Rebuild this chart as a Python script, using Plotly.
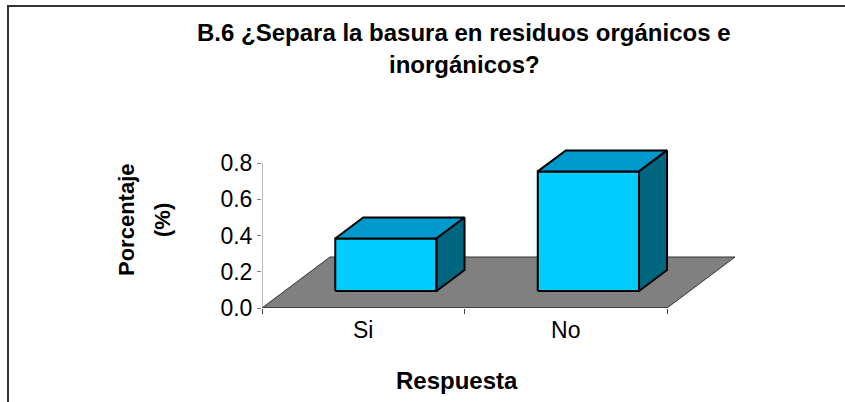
import plotly.graph_objects as go

# ---- data ----
categories = ["Si", "No"]
values = [0.29, 0.66]
y_ticks = [0.0, 0.2, 0.4, 0.6, 0.8]
title_lines = ["B.6 ¿Separa la basura en residuos orgánicos e", "inorgánicos?"]
x_title = "Respuesta"
y_title_lines = ["Porcentaje", "(%)"]

# ---- styling / geometry ----
FONT = "Arial, Liberation Sans, sans-serif"
W, H = 845, 402
L, R, T, B = 262, 83, 120, 94
PW, PH = W - L - R, H - T - B
PX_PER_CAT = 202.5
PX_PER_VAL = 181.25
XR = PW / PX_PER_CAT
YR = PH / PX_PER_VAL

DX = 68 / PX_PER_CAT      # floor depth vector (data units)
DY = 51 / PX_PER_VAL
D0, D1 = 0.333, 0.745     # bar depth span (fraction of floor depth)
BAR_W = 0.5

C_FRONT, C_TOP, C_SIDE = "#00CCFF", "#0099CC", "#006680"
C_FLOOR = "#808080"


def px(xp):
    return (xp - L) / PW


def py(yp):
    return (H - B - yp) / PH


fig = go.Figure()


def poly(xs, ys, fill, lw=2, lc="black"):
    fig.add_trace(go.Scatter(
        x=xs + [xs[0]], y=ys + [ys[0]], mode="lines", fill="toself",
        fillcolor=fill, line=dict(color=lc, width=lw),
        hoverinfo="skip", showlegend=False))


# floor
n = len(categories)
poly([0, n, n + DX, DX], [0, 0, DY, DY], C_FLOOR, lw=1, lc="#333333")

# bars
for i, v in enumerate(values):
    c = i + 0.5
    x0, x1 = c - BAR_W / 2, c + BAR_W / 2
    fx, fy = D0 * DX, D0 * DY
    bx, by = D1 * DX, D1 * DY
    poly([x0 + fx, x1 + fx, x1 + fx, x0 + fx], [fy, fy, fy + v, fy + v], C_FRONT)
    poly([x0 + fx, x1 + fx, x1 + bx, x0 + bx], [fy + v, fy + v, by + v, by + v], C_TOP)
    poly([x1 + fx, x1 + bx, x1 + bx, x1 + fx], [fy, by, by + v, fy + v], C_SIDE)

shapes = [
    dict(type="line", xref="x", yref="y", x0=0, x1=n, y0=0, y1=0,
         line=dict(color="#404040", width=2), layer="above"),
    dict(type="line", xref="x", yref="y", x0=0, x1=0, y0=0, y1=max(y_ticks),
         line=dict(color="#808080", width=1), layer="above"),
    dict(type="path", xref="paper", yref="paper",
         path=f"M {px(8)},{py(420)} L {px(8)},{py(6)} L {px(860)},{py(6)}",
         line=dict(color="#333333", width=2)),
]


def ann(text, x, y, size, angle=0):
    return dict(text=text, x=px(x), y=py(y), xref="paper", yref="paper",
                showarrow=False, textangle=angle,
                font=dict(family=FONT, size=size, color="black"),
                xanchor="center", yanchor="middle")


annotations = [
    ann(f"<b>{title_lines[0]}</b>", 464, 33, 24),
    ann(f"<b>{title_lines[1]}</b>", 464, 65, 24),
    ann(f"<b>{x_title}</b>", 457, 380, 24),
    ann(f"<b>{y_title_lines[0]}</b>", 126, 220, 22, -90),
    ann(f"<b>{y_title_lines[1]}</b>", 162, 220, 22, -90),
]

fig.update_layout(
    width=W, height=H,
    margin=dict(l=L, r=R, t=T, b=B, autoexpand=False),
    paper_bgcolor="white", plot_bgcolor="white",
    shapes=shapes, annotations=annotations,
    xaxis=dict(range=[0, XR], showgrid=False, zeroline=False, showline=False,
               tickmode="array", tickvals=[i + 0.5 for i in range(n)], ticktext=categories,
               ticks="", ticklabelstandoff=6,
               tickfont=dict(family=FONT, size=23, color="black"),
               minor=dict(tickmode="array", tickvals=list(range(n + 1)), ticks="outside",
                          ticklen=5, tickcolor="#404040", tickwidth=1),
               fixedrange=True),
    yaxis=dict(range=[0, YR], showgrid=False, zeroline=False, showline=False,
               tickmode="array", tickvals=y_ticks, tickformat=".1f",
               ticks="outside", ticklen=4, tickcolor="#808080", tickwidth=1,
               tickfont=dict(family=FONT, size=23, color="black"),
               fixedrange=True),
)

fig.write_html(
    "out.html",
    config={"displayModeBar": False, "staticPlot": True},
    post_script="document.body.style.margin='0';document.body.style.overflow='hidden';",
)
